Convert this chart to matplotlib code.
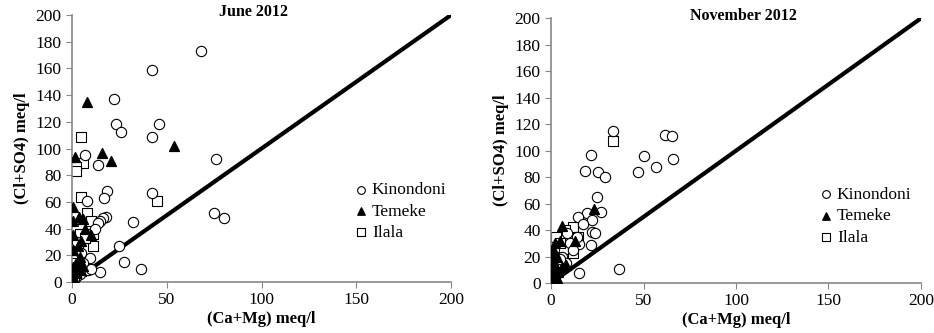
import numpy as np
import matplotlib
matplotlib.use("Agg")
import matplotlib.pyplot as plt

plt.rcParams['font.family'] = ['Liberation Serif', 'DejaVu Serif']

# June 2012 (Ca+Mg, Cl+SO4) in meq/l
jun_kin_x = [68, 42, 22, 23, 26, 46, 42, 76, 7, 14, 18.5, 17, 8, 42, 75, 80, 18, 16.5, 15, 14, 32,
             25, 27.5, 36.5, 15, 9.5, 8.5, 2.5, 5, 3, 6, 4, 2, 1, 10, 12]
jun_kin_y = [173, 159, 137, 118, 112, 118, 109, 92, 95, 88, 68, 63, 61, 67, 52, 48, 49, 48, 46, 44, 45,
             27, 15, 10, 7.5, 18, 9, 30, 22, 12, 14, 6, 4, 2, 10, 40]
jun_tem_x = [8, 1.5, 16, 20.5, 54, 0.5, 0.5, 3.7, 6, 7, 10, 0.5, 5, 0.5, 4, 0.5, 3.6, 0.5, 2, 1, 3, 6, 2, 4]
jun_tem_y = [135, 94, 97, 91, 102, 56, 46, 49, 47, 40, 35, 35, 31, 24, 19, 11, 16, 4, 7, 2, 27, 12, 14, 9]
jun_ila_x = [5, 6, 2, 2, 5, 45, 8, 4, 11, 11, 0.5, 0, 10, 7, 3, 1.5, 5]
jun_ila_y = [109, 89, 86, 83, 64, 61, 52, 36, 36, 27, 19, 10, 46, 33, 24, 14, 8]

# November 2012
nov_kin_x = [33.5, 61.6, 65.4, 50, 66, 21.6, 18.6, 25.4, 29, 47, 57, 24.7, 27, 19.3, 14.7, 22, 17.4,
             22, 23.8, 21.6, 15, 36.8, 15, 14, 8.6, 10, 6, 4, 3, 2, 8, 12, 5]
nov_kin_y = [115, 112, 111, 96, 94, 96.6, 84.5, 84, 80, 84, 88, 65, 54, 53, 50, 48, 44.5,
             38.5, 38, 28.7, 29.5, 10.6, 7.5, 35, 37.7, 30, 20, 12, 8, 5, 15, 25, 18]
nov_tem_x = [23, 6, 5, 2, 13, 1, 3, 1, 2, 4, 6, 0.5, 1.5, 3, 8, 2, 1, 0.5]
nov_tem_y = [56, 43, 32, 23, 32, 17, 20, 10, 14, 8, 12, 3, 6, 4, 14, 30, 25, 1]
nov_ila_x = [33.5, 12, 7.6, 2.7, 14.6, 2, 7, 12, 14, 5, 3, 1, 6]
nov_ila_y = [107, 42, 40, 35, 35, 27, 26, 23, 32, 30, 18, 10, 14]

fig = plt.figure(figsize=(9.34, 3.33), dpi=100)
ax1 = fig.add_axes([0.077, 0.153, 0.406, 0.802])
ax2 = fig.add_axes([0.590, 0.150, 0.396, 0.795])

panels = [
    (ax1, 'June 2012', jun_kin_x, jun_kin_y, jun_tem_x, jun_tem_y, jun_ila_x, jun_ila_y, (0.72, 0.40), 0.48),
    (ax2, 'November 2012', nov_kin_x, nov_kin_y, nov_tem_x, nov_tem_y, nov_ila_x, nov_ila_y, (0.70, 0.39), 0.52),
]

for ax, title, kx, ky, tx, ty, ix, iy, legpos, tpos in panels:
    ax.plot([0, 200], [0, 200], color='black', lw=3, zorder=1)
    ax.scatter(kx, ky, s=55, marker='o', facecolors='white', edgecolors='black', linewidths=0.8,
               label='Kinondoni', zorder=3)
    ax.scatter(tx, ty, s=50, marker='^', color='black', label='Temeke', zorder=4)
    ax.scatter(ix, iy, s=60, marker='s', facecolors='white', edgecolors='black', linewidths=0.8,
               label='Ilala', zorder=2)
    ax.set_xlim(0, 200)
    ax.set_ylim(0, 200)
    ax.set_xticks([0, 50, 100, 150, 200])
    ax.set_yticks(np.arange(0, 201, 20))
    for s in ['top', 'right']:
        ax.spines[s].set_visible(False)
    for s in ['left', 'bottom']:
        ax.spines[s].set_color('#888888')
        ax.spines[s].set_linewidth(1.2)
    ax.tick_params(colors='#888888', labelcolor='black', labelsize=12.5, length=4, width=0.8)
    ax.set_xlabel('(Ca+Mg) meq/l', fontsize=12, fontweight='bold', labelpad=2)
    ax.set_ylabel('(Cl+SO4) meq/l', fontsize=12, fontweight='bold', labelpad=4)
    ax.text(tpos, 1.01, title, transform=ax.transAxes, ha='center', va='center',
            fontsize=11.5, fontweight='bold')
    ax.legend(loc='upper left', bbox_to_anchor=legpos, frameon=False, fontsize=12.5,
              markerscale=0.75, handletextpad=0.15, handlelength=1, labelspacing=0.3,
              borderaxespad=0)

fig.savefig('out.png', dpi=100)
